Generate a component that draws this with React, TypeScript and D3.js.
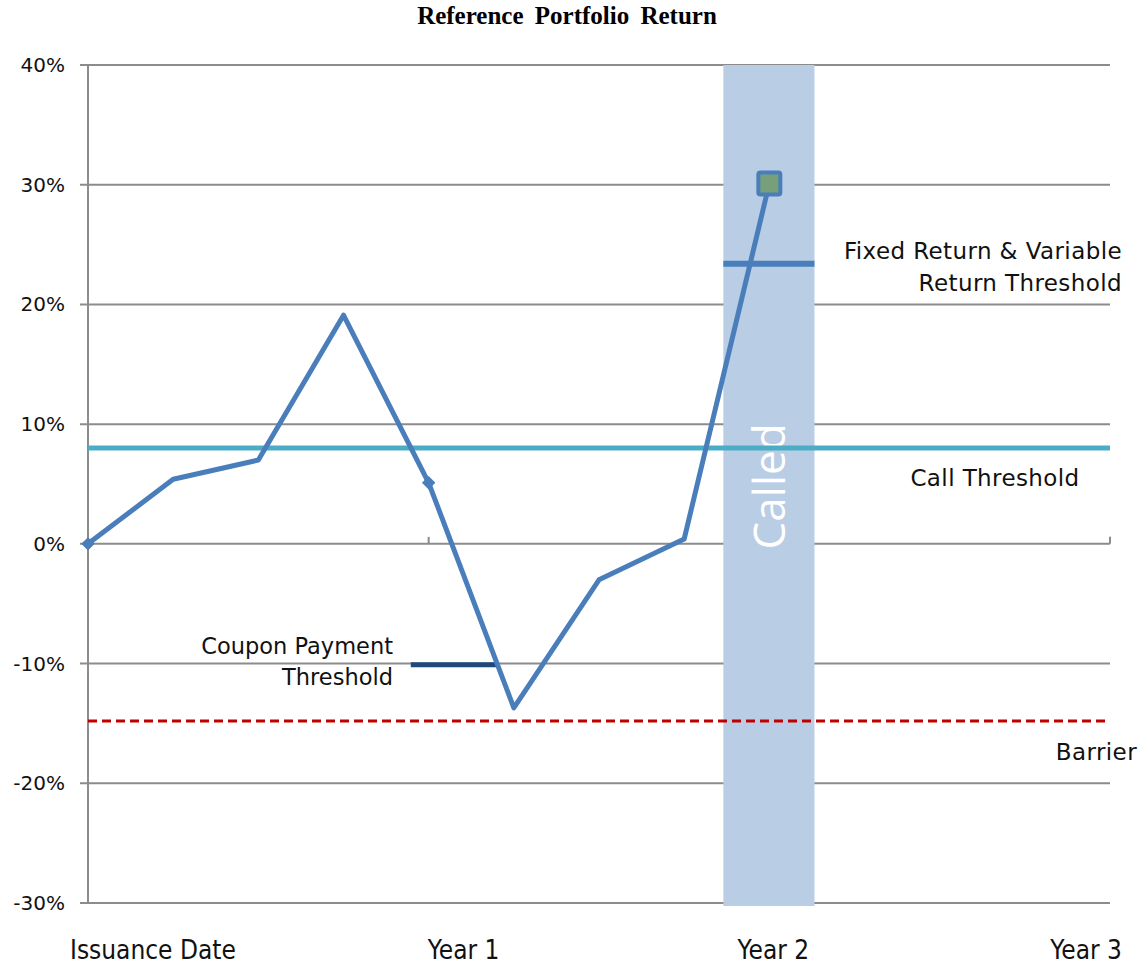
import * as d3 from 'd3'

const quarters = [0, 1, 2, 3, 4, 5, 6, 7, 8]
const returns = [0, 5.4, 7.0, 19.1, 5.1, -13.7, -3.0, 0.4, 30.1]
const xLabels = ['Issuance Date', 'Year 1', 'Year 2', 'Year 3']
const yTicks = [-30, -20, -10, 0, 10, 20, 30, 40]
const callThreshold = 8
const barrier = -14.8
const couponThreshold = -10.1
const fixedReturnThreshold = 23.4
const calledQuarter = 8

const width = 1144
const height = 969
const margin = { top: 65, right: 34, bottom: 66, left: 88 }

// where each x label sits relative to its tick (the original is not centred)
const xLabelAnchor = ['start', 'start', 'middle', 'end']
const xLabelShift = [-18, -1, 4, 12]

export default function App() {
  const x = d3
    .scaleLinear()
    .domain([0, 12])
    .range([margin.left, width - margin.right])
  const y = d3
    .scaleLinear()
    .domain([-30, 40])
    .range([height - margin.bottom, margin.top])

  const pts = quarters.map((q, i) => ({ q, v: returns[i] }))
  const line = d3
    .line<{ q: number; v: number }>()
    .x((d) => x(d.q))
    .y((d) => y(d.v))

  const labelFont = "Tahoma, 'DejaVu Sans', sans-serif"
  const band0 = x(calledQuarter - 0.54)
  const band1 = x(calledQuarter + 0.53)
  const diamond = d3.symbol(d3.symbolSquare, 90)()

  return (
    <svg
      width={width}
      height={height}
      style={{ position: 'absolute', left: 0, top: 0, background: '#fff' }}
    >
      <text
        x={567}
        y={24}
        textAnchor="middle"
        fontFamily="'Liberation Serif', 'Times New Roman', serif"
        fontWeight="bold"
        fontSize={25}
        wordSpacing={5}
      >
        Reference Portfolio Return
      </text>

      {/* grid lines */}
      {yTicks.map((t) => (
        <line
          key={t}
          x1={margin.left - 8}
          x2={x(12)}
          y1={y(t)}
          y2={y(t)}
          stroke="#8c8c8c"
          strokeWidth={2}
        />
      ))}
      <line x1={x(0)} x2={x(0)} y1={y(40)} y2={y(-30)} stroke="#8c8c8c" strokeWidth={2} />
      {[4, 8, 12].map((q) => (
        <line key={q} x1={x(q)} x2={x(q)} y1={y(0)} y2={y(0) - 7} stroke="#8c8c8c" strokeWidth={2} />
      ))}

      {yTicks.map((t) => (
        <text
          key={t}
          x={65}
          y={y(t) + 7}
          textAnchor="end"
          fontFamily="'DejaVu Sans', sans-serif"
          fontSize={20}
          fill="#111"
        >
          {t}%
        </text>
      ))}

      {xLabels.map((l, i) => (
        <text
          key={l}
          transform={`translate(${x(i * 4) + xLabelShift[i]},959) scale(0.9,1)`}
          textAnchor={xLabelAnchor[i]}
          fontFamily="'DejaVu Sans', sans-serif"
          fontSize={26}
          fill="#111"
        >
          {l}
        </text>
      ))}

      {/* called band */}
      <rect x={band0} y={y(40)} width={band1 - band0} height={y(-30) - y(40) + 3} fill="#b9cde5" />
      <text
        transform={`translate(${x(calledQuarter) + 16},${y(4.8)}) rotate(-90)`}
        textAnchor="middle"
        fontFamily="'Open Sans', 'Noto Sans', sans-serif"
        fontSize={44}
        fill="#fff"
      >
        Called
      </text>

      {/* thresholds */}
      <line
        x1={x(0)}
        x2={x(12)}
        y1={y(callThreshold)}
        y2={y(callThreshold)}
        stroke="#4bacc6"
        strokeWidth={5}
      />
      <line
        x1={x(0)}
        x2={x(12)}
        y1={y(barrier)}
        y2={y(barrier)}
        stroke="#c00000"
        strokeWidth={3}
        strokeDasharray="9 5"
      />
      <line
        x1={x(3.79)}
        x2={x(4.82)}
        y1={y(couponThreshold)}
        y2={y(couponThreshold)}
        stroke="#1f497d"
        strokeWidth={5}
      />
      <line
        x1={band0}
        x2={band1}
        y1={y(fixedReturnThreshold)}
        y2={y(fixedReturnThreshold)}
        stroke="#4a7ebb"
        strokeWidth={6}
      />

      {/* portfolio return line */}
      <path d={line(pts) ?? ''} fill="none" stroke="#4a7ebb" strokeWidth={5} strokeLinejoin="round" />
      {[0, 4].map((i) => (
        <path
          key={i}
          d={diamond ?? ''}
          transform={`translate(${x(quarters[i])},${y(returns[i])}) rotate(45)`}
          fill="#4a7ebb"
        />
      ))}
      <rect
        x={x(quarters[8]) - 11}
        y={y(returns[8]) - 11}
        width={22}
        height={22}
        fill="#77a07a"
        stroke="#4a7ebb"
        strokeWidth={4}
        rx={2}
      />

      {/* annotations */}
      <g fontFamily={labelFont} fontSize={23} letterSpacing={0.4} fill="#111">
        <text x={1122} y={259} textAnchor="end">Fixed Return &amp; Variable</text>
        <text x={1122} y={291} textAnchor="end">Return Threshold</text>
        <text x={995} y={486} textAnchor="middle">Call Threshold</text>
        <text x={1137} y={760} textAnchor="end">Barrier</text>
      </g>
      <g fontFamily={labelFont} fontSize={22.5} fill="#111">
        <text x={393} y={654} textAnchor="end">Coupon Payment</text>
        <text x={393} y={685} textAnchor="end">Threshold</text>
      </g>
    </svg>
  )
}
